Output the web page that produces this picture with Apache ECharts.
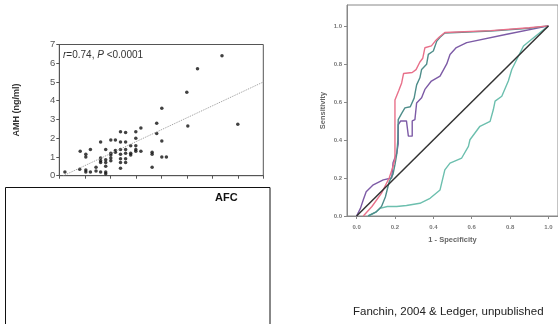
<!DOCTYPE html>
<html>
<head>
<meta charset="utf-8">
<script src="https://cdn.jsdelivr.net/npm/echarts@6/dist/echarts.min.js"></script>
<style>
  html, body { margin: 0; padding: 0; background: #fff; }
  #chart { width: 558px; height: 324px; }
</style>
</head>
<body>
<div id="chart"></div>
<script>
// scatter: AFC vs AMH
const afcAmh = [
  [1.1, 0.2],
  [4.0, 0.35], [4.1, 1.3],
  [5.2, 1.15], [5.2, 1.0], [5.2, 0.3], [5.2, 0.2],
  [6.1, 1.4], [6.1, 0.2],
  [7.2, 0.45], [7.2, 0.25],
  [8.1, 1.8], [8.1, 0.95], [8.1, 0.8], [8.1, 0.7], [8.1, 0.2],
  [9.1, 1.4], [9.1, 0.85], [9.1, 0.7], [9.1, 0.5], [9.1, 0.2], [9.1, 0.1],
  [10.1, 1.9], [10.1, 1.2], [10.1, 1.1], [10.1, 0.95], [10.1, 0.8],
  [11.0, 1.9], [11.0, 1.35], [11.0, 1.25],
  [12.0, 2.35], [12.0, 1.8], [12.0, 1.4], [12.0, 1.15], [12.0, 0.9], [12.0, 0.7], [12.0, 0.4],
  [13.0, 2.3], [13.0, 1.8], [13.0, 1.4], [13.0, 1.2], [13.0, 0.9], [13.0, 0.7],
  [14.0, 1.6], [14.0, 1.2], [14.0, 1.1],
  [15.0, 2.35], [15.0, 2.0], [15.0, 1.6], [15.0, 1.4], [15.0, 1.3],
  [16.0, 2.55], [16.0, 1.3],
  [18.2, 1.25], [18.2, 1.15], [18.2, 0.45],
  [19.1, 2.8], [19.1, 2.25],
  [20.1, 3.6], [20.1, 1.85], [20.1, 1.0],
  [21.0, 1.0],
  [25.0, 4.45], [25.2, 2.65],
  [27.1, 5.7],
  [31.9, 6.4],
  [35.0, 2.75]
];
const fitLine = [[0.8, 0], [40, 5.0]];
const amhTicks = [0, 1, 2, 3, 4, 5, 6, 7];

// ROC curves [1 - specificity, sensitivity]
const rocPink = [
  [0.035, 0], [0.08, 0.05], [0.13, 0.12], [0.17, 0.2], [0.19, 0.26], [0.2, 0.3],
  [0.2, 0.45], [0.2, 0.61], [0.22, 0.66], [0.235, 0.7], [0.245, 0.75], [0.29, 0.755],
  [0.31, 0.77], [0.33, 0.81], [0.345, 0.83], [0.356, 0.885], [0.39, 0.895],
  [0.41, 0.92], [0.43, 0.94], [0.46, 0.965], [0.7, 0.975], [0.9, 0.99], [1, 1]
];
const rocTeal = [
  [0.06, 0], [0.1, 0.02], [0.13, 0.05], [0.15, 0.1], [0.17, 0.18], [0.19, 0.22],
  [0.2, 0.27], [0.21, 0.33], [0.215, 0.4], [0.217, 0.507], [0.235, 0.54],
  [0.252, 0.569], [0.28, 0.575], [0.3, 0.62], [0.313, 0.69], [0.33, 0.727],
  [0.339, 0.771], [0.365, 0.798], [0.374, 0.85], [0.4, 0.868], [0.418, 0.92],
  [0.435, 0.94], [0.46, 0.963], [0.7, 0.973], [0.9, 0.988], [1, 1]
];
const rocPurple = [
  [0, 0], [0.02, 0.04], [0.035, 0.085], [0.05, 0.128], [0.087, 0.164], [0.139, 0.19],
  [0.183, 0.2], [0.19, 0.28], [0.209, 0.33], [0.217, 0.38], [0.217, 0.48],
  [0.23, 0.5], [0.26, 0.5], [0.27, 0.42], [0.29, 0.42], [0.29, 0.5], [0.304, 0.507],
  [0.313, 0.595], [0.339, 0.622], [0.356, 0.666], [0.39, 0.71], [0.435, 0.736],
  [0.47, 0.8], [0.487, 0.85], [0.52, 0.886], [0.574, 0.912], [0.783, 0.956], [1, 1]
];
const rocGreen = [
  [0.06, 0], [0.1, 0.02], [0.122, 0.04], [0.16, 0.05], [0.209, 0.05], [0.26, 0.055],
  [0.33, 0.067], [0.383, 0.093], [0.435, 0.137], [0.46, 0.243], [0.487, 0.278],
  [0.548, 0.305], [0.583, 0.366], [0.591, 0.401], [0.643, 0.472], [0.696, 0.498],
  [0.713, 0.56], [0.722, 0.604], [0.757, 0.63], [0.791, 0.71], [0.809, 0.771],
  [0.87, 0.894], [0.913, 0.93], [1, 1]
];
const rocDiagonal = [[0, 0], [1, 1]];
const rocTicks = [0, 0.2, 0.4, 0.6, 0.8, 1.0];

const chart = echarts.init(document.getElementById("chart"));

const rocLine = (data, color, width) => ({
  type: "line",
  xAxisIndex: 1,
  yAxisIndex: 1,
  data: data,
  showSymbol: false,
  silent: true,
  lineStyle: { color: color, width: width },
});

const rocLabel = { color: "#777", fontSize: 6, fontWeight: "bold", fontFamily: "Arial" };

chart.setOption({
  animation: false,
  grid: [
    { left: 59.3, top: 44.5, width: 204, height: 131.2, show: true, borderColor: "#555", borderWidth: 1 },
    { left: 347, top: 5, width: 211, height: 211, show: true, borderColor: "#888", borderWidth: 1 },
  ],
  xAxis: [
    {
      gridIndex: 0, type: "value", min: 0, max: 40, interval: 5,
      axisLine: { lineStyle: { color: "#555" } },
      axisTick: { length: 3, lineStyle: { color: "#555" } },
      axisLabel: { show: false },
      splitLine: { show: false },
    },
    {
      gridIndex: 1, type: "value", min: -0.05, max: 1.05,
      axisLine: { onZero: false, lineStyle: { color: "#888" } },
      axisTick: { length: 3, customValues: rocTicks, lineStyle: { color: "#888" } },
      axisLabel: Object.assign({ customValues: rocTicks, margin: 8, formatter: (v) => v.toFixed(1) }, rocLabel),
      splitLine: { show: false },
      name: "1 - Specificity", nameLocation: "middle", nameGap: 20,
      nameTextStyle: { color: "#666", fontSize: 7.5, fontWeight: "bold", fontFamily: "Arial" },
    },
  ],
  yAxis: [
    {
      gridIndex: 0, type: "value", min: 0, max: 7, interval: 1,
      axisLine: { show: true, lineStyle: { color: "#555" } },
      axisTick: { show: true, length: 3, lineStyle: { color: "#555" } },
      axisLabel: { color: "#555", fontSize: 9.5, margin: 4, fontFamily: "Arial",
        formatter: (v) => (amhTicks.includes(v) ? String(v) : "") },
      splitLine: { show: false },
      name: "AMH (ng/ml)", nameLocation: "middle", nameGap: 38,
      nameTextStyle: { color: "#333", fontSize: 9, fontWeight: "bold", fontFamily: "Arial" },
    },
    {
      gridIndex: 1, type: "value", min: 0, max: 1.11,
      axisLine: { show: true, onZero: false, lineStyle: { color: "#888" } },
      axisTick: { show: true, length: 3, customValues: rocTicks, lineStyle: { color: "#888" } },
      axisLabel: Object.assign({ customValues: rocTicks, margin: 5, formatter: (v) => v.toFixed(1) }, rocLabel),
      splitLine: { show: false },
      name: "Sensitivity", nameLocation: "middle", nameGap: 20,
      nameTextStyle: { color: "#666", fontSize: 7.5, fontWeight: "bold", fontFamily: "Arial" },
    },
  ],
  series: [
    {
      type: "line", xAxisIndex: 0, yAxisIndex: 0, data: fitLine, showSymbol: false, silent: true,
      lineStyle: { color: "#999", width: 1, type: [1, 1] },
    },
    {
      type: "scatter", xAxisIndex: 0, yAxisIndex: 0, data: afcAmh, symbolSize: 3.5,
      itemStyle: { color: "#111" }, silent: true,
    },
    rocLine(rocGreen, "#6cbfae", 1.4),
    rocLine(rocPurple, "#7d5ba6", 1.4),
    rocLine(rocTeal, "#4e8d8a", 1.4),
    rocLine(rocPink, "#e8708a", 1.4),
    rocLine(rocDiagonal, "#333", 1.5),
  ],
  graphic: [
    {
      type: "text", left: 63, top: 50,
      style: {
        text: "{i|r}=0.74, {i|P} <0.0001",
        font: "10px Arial", fill: "#333",
        rich: { i: { fontStyle: "italic", fontSize: 10, fontFamily: "Arial", fill: "#333" } },
      },
    },
    {
      type: "rect", shape: { x: 5.5, y: 187.5, width: 264.5, height: 140 },
      style: { fill: "#fff", stroke: "#111", lineWidth: 1 },
    },
    {
      type: "text", left: 215, top: 192,
      style: { text: "AFC", font: "bold 11px Arial", fill: "#111" },
    },
    {
      type: "text", left: 353, top: 306,
      style: { text: "Fanchin, 2004 & Ledger, unpublished", font: "11.5px Arial", fill: "#222" },
    },
  ],
});
</script>
</body>
</html>
